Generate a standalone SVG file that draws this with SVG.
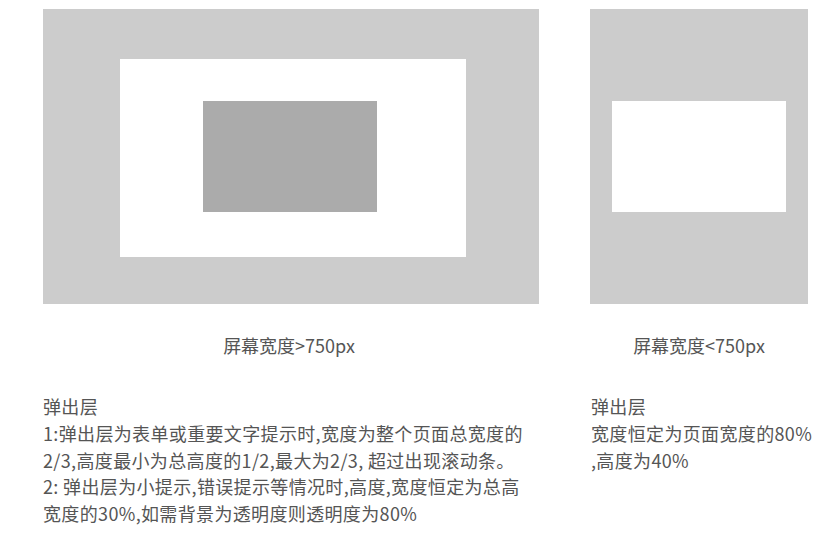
<svg xmlns="http://www.w3.org/2000/svg" width="832" height="538" viewBox="0 0 832 538">
<style>
.screen{fill:#cccccc}
.popup{fill:#ffffff}
.inner{fill:#ababab}
text{font-family:"Noto Sans CJK SC","Noto Sans",sans-serif;font-size:18px;fill:#555555}
.c{text-anchor:middle}
.p{letter-spacing:0.35px}
</style>
<rect width="832" height="538" fill="#ffffff"/>
<g id="wide-screen">
<rect class="screen" x="43" y="9" width="496" height="295"/>
<rect class="popup" x="120" y="59" width="346" height="198"/>
<rect class="inner" x="203" y="101" width="174" height="111"/>
<text class="c" x="289" y="353">屏幕宽度&gt;750px</text>
</g>
<g id="narrow-screen">
<rect class="screen" x="590" y="9" width="218" height="295"/>
<rect class="popup" x="612" y="101" width="174" height="111"/>
<text class="c" x="699" y="353">屏幕宽度&lt;750px</text>
</g>
<g id="wide-desc">
<text class="p" x="43" y="414">弹出层</text>
<text class="p" x="43" y="441">1:弹出层为表单或重要文字提示时,宽度为整个页面总宽度的</text>
<text class="p" x="43" y="468">2/3,高度最小为总高度的1/2,最大为2/3, 超过出现滚动条。</text>
<text class="p" x="43" y="494">2: 弹出层为小提示,错误提示等情况时,高度,宽度恒定为总高</text>
<text class="p" x="43" y="521">宽度的30%,如需背景为透明度则透明度为80%</text>
</g>
<g id="narrow-desc">
<text class="p" x="591" y="414">弹出层</text>
<text class="p" x="591" y="441">宽度恒定为页面宽度的80%</text>
<text class="p" x="591" y="468">,高度为40%</text>
</g>
<g id="connectors"></g>
</svg>
